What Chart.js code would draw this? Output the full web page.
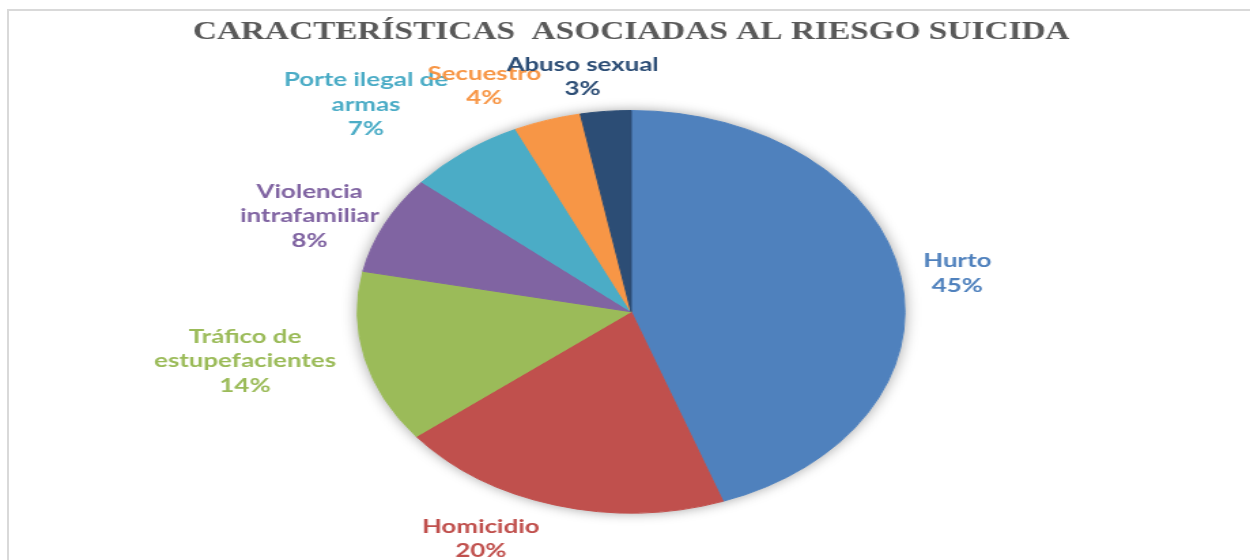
<!DOCTYPE html>
<html>
<head>
<meta charset="utf-8">
<script src="https://cdn.jsdelivr.net/npm/chart.js@4.4.1/dist/chart.umd.min.js"></script>
<style>
  html, body { margin: 0; padding: 0; background: #ffffff; overflow: hidden; }
  #frame {
    position: absolute; left: 7px; top: 9px; width: 1243px; height: 551px;
    border-top: 2px solid #d9d9d9; border-left: 2px solid #d9d9d9;
  }
  /* the chart is drawn on a narrower canvas and widened to the page */
  #stage {
    position: absolute; left: 0; top: 0; width: 919px; height: 560px;
    transform: scaleX(1.3602); transform-origin: 0 0;
  }
</style>
</head>
<body>
<div id="frame"></div>
<div id="stage"><canvas id="c" width="919" height="560"></canvas></div>
<script>
const categories = [
  'Hurto',
  'Homicidio',
  'Tráfico de\nestupefacientes',
  'Violencia\nintrafamiliar',
  'Porte ilegal de\narmas',
  'Secuestro',
  'Abuso sexual'
];
const percentages = [45, 20, 14, 8, 7, 4, 3];
const sliceColors = ['#4F81BD', '#C0504D', '#9BBB59', '#8064A2', '#4BACC6', '#F79646', '#2C4D75'];
const labelColors = ['#4F81BD', '#C0504D', '#9BBB59', '#8064A2', '#4BACC6', '#F79646', '#2C4D75'];
const titleText = 'CARACTERÍSTICAS  ASOCIADAS AL RIESGO SUICIDA';

// outside-end label placement: gap from the rim, then small hand nudges
const labelGap = 18;
const labelLineHeight = 24.5;
const labelNudge = [[-1, 3], [-38, -7], [-5.5, -10], [7, 16], [-25, -4], [-28, 6], [-10, 8]];

// soft shadow behind the whole pie
const pieShadow = {
  id: 'pieShadow',
  beforeDatasetsDraw(chart) {
    const arc = chart.getDatasetMeta(0).data[0];
    if (!arc) return;
    const ctx = chart.ctx;
    ctx.save();
    ctx.shadowColor = 'rgba(0,0,0,0.38)';
    ctx.shadowBlur = 12;
    ctx.fillStyle = '#ffffff';
    ctx.beginPath();
    ctx.arc(arc.x, arc.y, arc.outerRadius, 0, Math.PI * 2);
    ctx.fill();
    ctx.restore();
  }
};

// category name + percentage outside each slice
const outsideLabels = {
  id: 'outsideLabels',
  afterDatasetsDraw(chart) {
    const ctx = chart.ctx;
    const meta = chart.getDatasetMeta(0);
    ctx.save();
    ctx.font = 'bold 19px Lato, "Open Sans", sans-serif';
    ctx.textAlign = 'center';
    ctx.textBaseline = 'middle';
    meta.data.forEach((arc, i) => {
      const p = arc.getProps(['x', 'y', 'startAngle', 'endAngle', 'outerRadius'], true);
      const mid = (p.startAngle + p.endAngle) / 2;
      const dx = Math.cos(mid), dy = Math.sin(mid);
      const lines = chart.data.labels[i].split('\n').concat([chart.data.datasets[0].data[i] + '%']);
      const w = Math.max(...lines.map(l => ctx.measureText(l).width));
      const h = lines.length * labelLineHeight;
      const ax = p.x + dx * (p.outerRadius + labelGap);
      const ay = p.y + dy * (p.outerRadius + labelGap);
      const cx = ax + dx * w / 2 + labelNudge[i][0];
      const cy = ay + dy * h / 2 + labelNudge[i][1];
      ctx.fillStyle = labelColors[i];
      lines.forEach((l, k) => ctx.fillText(l, cx, cy - h / 2 + labelLineHeight * (k + 0.5)));
    });
    ctx.restore();
  }
};

new Chart(document.getElementById('c'), {
  type: 'pie',
  data: {
    labels: categories,
    datasets: [{
      data: percentages,
      backgroundColor: sliceColors,
      borderColor: sliceColors,
      borderWidth: 1
    }]
  },
  options: {
    responsive: false,
    animation: false,
    layout: { padding: { left: 9, right: 0, top: 0, bottom: 46.5 } },
    plugins: {
      legend: { display: false },
      tooltip: { enabled: false },
      title: {
        display: true,
        text: titleText,
        color: '#595959',
        font: { family: '"Liberation Serif", "Times New Roman", serif', size: 24.5, weight: 'bold' },
        padding: { top: 18, bottom: 62.6 }
      }
    }
  },
  plugins: [pieShadow, outsideLabels]
});
</script>
</body>
</html>
